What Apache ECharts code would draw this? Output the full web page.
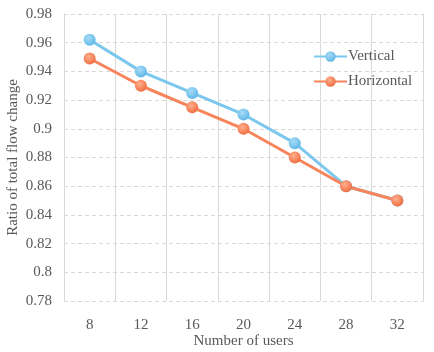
<!DOCTYPE html>
<html>
<head>
<meta charset="utf-8">
<script src="https://cdn.jsdelivr.net/npm/echarts@6/dist/echarts.min.js"></script>
<style>
  html, body { margin: 0; padding: 0; background: #fff; }
  #chart { width: 434px; height: 352px; }
</style>
</head>
<body>
<div id="chart"></div>
<script>
const users = ['8', '12', '16', '20', '24', '28', '32']
const vertical = [0.962, 0.940, 0.925, 0.910, 0.890, 0.860, 0.850]
const horizontal = [0.949, 0.930, 0.915, 0.900, 0.880, 0.860, 0.850]

const font = 'Liberation Serif, Times New Roman, serif'
const textColor = '#595959'
const gridColor = '#d9d9d9'

function ball(light, dark) {
  return {
    type: 'radial', x: 0.4, y: 0.35, r: 0.7,
    colorStops: [{ offset: 0, color: light }, { offset: 1, color: dark }]
  }
}

const chart = echarts.init(document.getElementById('chart'), null, { renderer: 'canvas' })
chart.setOption({
  backgroundColor: '#fff',
  animation: false,
  textStyle: { fontFamily: font, color: textColor },
  grid: { left: 64, right: 11, top: 14, bottom: 51, outerBoundsMode: 'none', containLabel: false },
  legend: {
    orient: 'vertical', left: 313, top: 49, itemGap: 10, padding: 0,
    itemWidth: 33, itemHeight: 13,
    textStyle: { fontFamily: font, fontSize: 15, color: textColor, padding: [0, 0, 0, -4] },
    data: ['Vertical', 'Horizontal']
  },
  xAxis: {
    type: 'category', data: users, boundaryGap: true,
    name: 'Number of users', nameLocation: 'middle', nameGap: 33, nameMoveOverlap: false,
    nameTextStyle: { fontFamily: font, fontSize: 15, color: textColor },
    axisLine: { show: false },
    axisTick: { show: false },
    axisLabel: { fontFamily: font, fontSize: 15, color: textColor, margin: 17 },
    splitLine: { show: true, lineStyle: { color: gridColor, type: 'solid' } }
  },
  yAxis: [
    {
      type: 'value', min: 0.78, max: 0.98, interval: 0.02,
      name: 'Ratio of total flow change', nameLocation: 'middle', nameGap: 43, nameMoveOverlap: false,
      nameTextStyle: { fontFamily: font, fontSize: 15, color: textColor },
      axisLine: { show: true, lineStyle: { color: gridColor } },
      axisTick: { show: false },
      axisLabel: { fontFamily: font, fontSize: 15, color: textColor, margin: 12,
        formatter: v => String(+v.toFixed(2)) },
      splitLine: { show: true, lineStyle: { color: gridColor, type: [4, 3] } }
    },
    {
      type: 'value', min: 0.78, max: 0.98, interval: 0.02, position: 'right',
      axisLine: { show: true, lineStyle: { color: gridColor } },
      axisTick: { show: false }, axisLabel: { show: false }, splitLine: { show: false }
    }
  ],
  series: [
    {
      name: 'Vertical', type: 'line', data: vertical,
      symbol: 'circle', symbolSize: 12,
      lineStyle: { color: '#7cc7ee', width: 3 },
      itemStyle: { color: ball('#a8dcf7', '#5bb5e6') }
    },
    {
      name: 'Horizontal', type: 'line', data: horizontal,
      symbol: 'circle', symbolSize: 12,
      lineStyle: { color: '#f7845a', width: 3 },
      itemStyle: { color: ball('#ffb08f', '#f06a3c') }
    }
  ]
})
</script>
</body>
</html>
